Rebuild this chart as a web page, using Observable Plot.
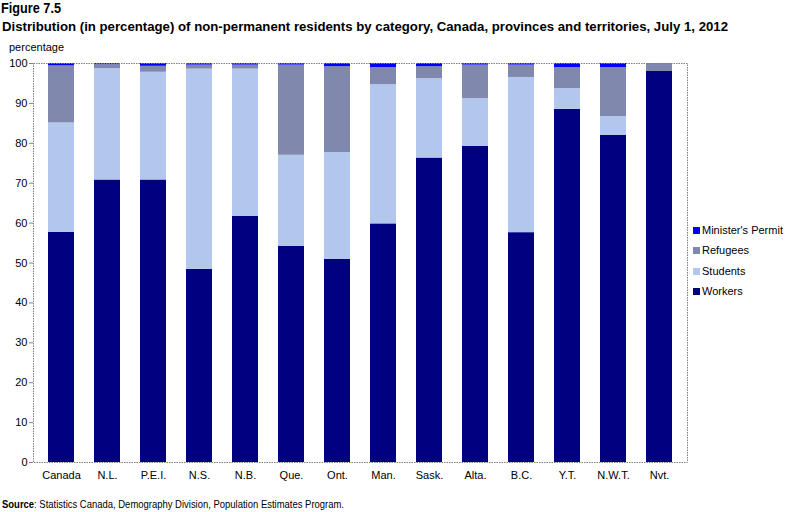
<!DOCTYPE html>
<html><head><meta charset="utf-8">
<script src="https://cdn.jsdelivr.net/npm/d3@7"></script>
<script src="https://cdn.jsdelivr.net/npm/@observablehq/plot@0.6"></script>
<style>
body{margin:0;background:#fff;}
#wrap{position:relative;width:786px;height:512px;overflow:hidden;font-family:"Liberation Sans",Arial,sans-serif;}
.abs{position:absolute;white-space:nowrap;transform-origin:0 0;}
.leg{position:absolute;font-size:11px;line-height:12px;white-space:nowrap;}
.sw{display:inline-block;width:7px;height:7px;margin-right:2px;vertical-align:0px;}
</style></head>
<body><div id="wrap"></div>
<script>
const categories = ["Canada","N.L.","P.E.I.","N.S.","N.B.","Que.","Ont.","Man.","Sask.","Alta.","B.C.","Y.T.","N.W.T.","Nvt."];
const seriesNames = ["Workers","Students","Refugees","Minister's Permit"];
const workers  = [57.7,70.8,70.8,48.4,61.7,54.2,50.9,59.8,76.3,79.2,57.6,88.5,82.0,98.0];
const students = [27.4,27.9,27.0,50.2,36.9,22.8,26.8,34.9,19.9,12.0,38.9,5.2,4.7,0.0];
const refugees = [14.3,1.0,1.5,1.0,1.0,22.6,21.5,4.3,3.0,8.4,3.1,5.3,12.3,2.0];
const ministers= [0.6,0.3,0.7,0.4,0.4,0.4,0.8,1.0,0.8,0.4,0.4,1.0,1.0,0.0];
const yTicks = [0,10,20,30,40,50,60,70,80,90,100];
const colors = ["#000080","#b2c6ee","#8089ad","#0000ff"];

const seriesValues = [workers, students, refugees, ministers];
const data = [];
categories.forEach((c,i)=>{
  seriesNames.forEach((s,j)=>data.push({category:c, series:s, value:seriesValues[j][i]}));
});

const chart = Plot.plot({
  width:786, height:512,
  marginLeft:33, marginRight:99, marginTop:63, marginBottom:50,
  style:{fontFamily:'"Liberation Sans",Arial,sans-serif', fontSize:"11px", color:"#000", background:"#fff"},
  x:{domain:categories, paddingInner:0.44, paddingOuter:0.22, label:null, tickSize:0, tickPadding:9},
  y:{domain:[0,100], ticks:yTicks, label:null, tickSize:4, tickPadding:2},
  color:{domain:seriesNames, range:colors},
  marks:[
    Plot.barY(data,{x:"category", y:"value", fill:"series", order:seriesNames}),
    Plot.frame({stroke:"#808080", strokeDasharray:"1.5,1"}),
    Plot.axisY({ticks:yTicks, tickSize:4, tickPadding:2, stroke:"#808080", label:null}),
    Plot.axisX({tickSize:0, tickPadding:9, label:null})
  ]
});
const wrap = document.getElementById("wrap");
chart.style.position="absolute"; chart.style.left="0"; chart.style.top="0";
wrap.appendChild(chart);

function addText(txt, x, y, css, fitWidth){
  const d=document.createElement("div"); d.className="abs"; d.innerHTML=txt;
  d.style.left=x+"px"; d.style.top=y+"px"; Object.assign(d.style, css); wrap.appendChild(d);
  if (fitWidth){
    const w = d.getBoundingClientRect().width;
    if (w>0) d.style.transform = `scaleX(${fitWidth/w})`;
  }
}
addText("Figure 7.5", 1, 0, {fontSize:"14.5px", fontWeight:"bold"}, 60);
addText("Distribution (in percentage) of non-permanent residents by category, Canada, provinces and territories, July 1, 2012", 2, 19, {fontSize:"13.5px", fontWeight:"bold"}, 726);
addText("percentage", 9, 41, {fontSize:"11px"});
addText("<b>Source</b>: Statistics Canada, Demography Division, Population Estimates Program.", 2, 498, {fontSize:"11px"}, 342);

const legOrder = [3,2,1,0];
const legY = [224,244,265,285];
legOrder.forEach((j,k)=>{
  const d=document.createElement("div"); d.className="leg";
  d.style.left="693px"; d.style.top=legY[k]+"px";
  d.innerHTML=`<span class="sw" style="background:${colors[j]}"></span>${seriesNames[j]}`;
  wrap.appendChild(d);
});
</script></body></html>
